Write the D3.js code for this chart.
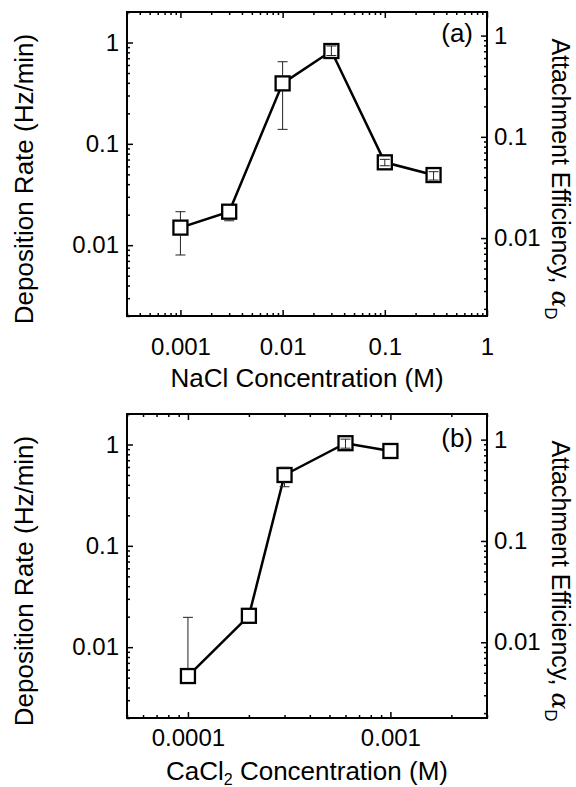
<!DOCTYPE html>
<html>
<head>
  <meta charset="utf-8">
  <title>Deposition Rate vs Salt Concentration</title>
  <script src="https://d3js.org/d3.v7.min.js"></script>
  <style>
    body { margin: 0; background: #fff; }
    svg { font-family: "Liberation Sans", Arial, sans-serif; }
    .tick text { font-size: 24px; fill: #000; }
    .axis path.domain { display: none; }
    .axis line { stroke: #000; stroke-width: 1.5; }
  </style>
</head>
<body>
  <svg width="576" height="787"></svg>
  <script>
    // panel (a): NaCl
    var naclConc = [0.001, 0.003, 0.01, 0.03, 0.1, 0.3];
    var naclRate = [0.0149, 0.0214, 0.395, 0.824, 0.0657, 0.0492];
    var naclErrLo = [0.0080, 0.0174, 0.139, 0.744, 0.0608, 0.0439];
    var naclErrHi = [0.0214, null, 0.646, 0.924, 0.0703, 0.0531];
    var naclXTicks = [0.001, 0.01, 0.1, 1];
    var naclXLabels = ["0.001", "0.01", "0.1", "1"];
    var naclXDomain = [0.0003, 1];
    var naclAlphaDomain = [0.0017, 1.71];

    // panel (b): CaCl2
    var caclConc = [0.0001, 0.0002, 0.0003, 0.0006, 0.001];
    var caclRate = [0.00519, 0.0204, 0.50, 1.03, 0.863];
    var caclErrLo = [null, null, 0.383, 0.92, null];
    var caclErrHi = [0.0197, null, 0.596, 1.13, null];
    var caclXTicks = [0.0001, 0.001];
    var caclXLabels = ["0.0001", "0.001"];
    var caclXDomain = [0.00005, 0.003];
    var caclAlphaDomain = [0.00179, 1.79];

    var rateDomain = [0.002, 2];
    var yTicks = [1, 0.1, 0.01];
    var yLabels = ["1", "0.1", "0.01"];

    var svg = d3.select("svg");
    var left = 127, width = 360, height = 304;

    function isMajor(v) {
      var l = Math.log10(v);
      return Math.abs(l - Math.round(l)) < 1e-6;
    }

    function drawPanel(p) {
      var g = svg.append("g").attr("transform", "translate(" + left + "," + p.top + ")");

      var x = d3.scaleLog().domain(p.xDomain).range([0, width]);
      var y = d3.scaleLog().domain(rateDomain).range([height, 0]);
      var ya = d3.scaleLog().domain(p.alphaDomain).range([height, 0]);

      var xMinor = x.ticks().filter(function(d) { return !isMajor(d); });
      var yMinor = y.ticks().filter(function(d) { return !isMajor(d); });
      var yaMinor = ya.ticks().filter(function(d) { return !isMajor(d); });

      // bottom axis
      g.append("g").attr("class", "axis").attr("transform", "translate(0," + height + ")")
        .call(d3.axisBottom(x).tickValues(xMinor).tickSize(-3).tickFormat(""));
      g.append("g").attr("class", "axis").attr("transform", "translate(0," + height + ")")
        .call(d3.axisBottom(x).tickValues(p.xTicks).tickSize(-6).tickPadding(p.xPad)
          .tickFormat(function(d, i) { return p.xLabels[i]; }));
      // top mirror
      g.append("g").attr("class", "axis")
        .call(d3.axisTop(x).tickValues(xMinor).tickSize(-3).tickFormat(""));
      g.append("g").attr("class", "axis")
        .call(d3.axisTop(x).tickValues(p.xTicks).tickSize(-6).tickFormat(""));

      // left axis (deposition rate)
      g.append("g").attr("class", "axis")
        .call(d3.axisLeft(y).tickValues(yMinor).tickSize(-3).tickFormat(""));
      g.append("g").attr("class", "axis")
        .call(d3.axisLeft(y).tickValues(yTicks).tickSize(-6).tickPadding(8)
          .tickFormat(function(d, i) { return yLabels[i]; }));

      // right axis (attachment efficiency)
      g.append("g").attr("class", "axis").attr("transform", "translate(" + width + ",0)")
        .call(d3.axisRight(ya).tickValues(yaMinor).tickSize(-3).tickFormat(""));
      g.append("g").attr("class", "axis").attr("transform", "translate(" + width + ",0)")
        .call(d3.axisRight(ya).tickValues(yTicks).tickSize(-6).tickPadding(7)
          .tickFormat(function(d, i) { return yLabels[i]; }));

      // frame
      g.append("rect").attr("width", width).attr("height", height)
        .attr("fill", "none").attr("stroke", "#000").attr("stroke-width", 2);

      var pts = p.conc.map(function(c, i) {
        return { c: c, r: p.rate[i], lo: p.lo[i], hi: p.hi[i] };
      });

      var line = d3.line()
        .x(function(d) { return x(d.c); })
        .y(function(d) { return y(d.r); });

      g.append("path").datum(pts).attr("d", line)
        .attr("fill", "none").attr("stroke", "#000").attr("stroke-width", 2.5);

      var ms = 14;
      g.selectAll(".marker").data(pts).enter().append("rect")
        .attr("class", "marker")
        .attr("x", function(d) { return x(d.c) - ms / 2; })
        .attr("y", function(d) { return y(d.r) - ms / 2; })
        .attr("width", ms).attr("height", ms)
        .attr("fill", "#fff").attr("stroke", "#000").attr("stroke-width", 2.3);

      // error bars, stems kept outside the marker box where they reach past it
      var eb = g.append("g").attr("stroke", "#222").attr("stroke-width", 1).attr("fill", "none");
      pts.forEach(function(d) {
        var px = x(d.c), py = y(d.r), half = ms / 2;
        [d.hi, d.lo].forEach(function(v, k) {
          if (v == null) return;
          var ey = y(v);
          var edge = k === 0 ? py - half : py + half;
          var outside = k === 0 ? ey < edge : ey > edge;
          eb.append("line").attr("x1", px).attr("x2", px)
            .attr("y1", ey).attr("y2", outside ? edge : py);
          eb.append("line").attr("x1", px - 5).attr("x2", px + 5)
            .attr("y1", ey).attr("y2", ey);
        });
      });

      // panel label
      g.append("text").attr("x", width - 14).attr("y", p.labelY)
        .attr("text-anchor", "end").attr("font-size", 26).text(p.label);

      // left title
      svg.append("text")
        .attr("transform", "translate(33," + (p.top + 167) + ") rotate(-90)")
        .attr("text-anchor", "middle").attr("font-size", 26)
        .text("Deposition Rate (Hz/min)");

      // right title
      var rt = svg.append("text")
        .attr("transform", "translate(552," + (p.top + 167) + ") rotate(90)")
        .attr("text-anchor", "middle").attr("font-size", 25);
      rt.append("tspan").text("Attachment Efficiency, ");
      rt.append("tspan").attr("font-style", "italic").attr("font-family", "DejaVu Serif, serif").text("\u03b1");
      rt.append("tspan").attr("font-size", 17).attr("dy", 7).text("D");

      // x title
      var xt = svg.append("text")
        .attr("x", left + width / 2).attr("y", p.top + p.xTitleY)
        .attr("text-anchor", "middle").attr("font-size", 26);
      p.xTitle.forEach(function(s) {
        var t = xt.append("tspan").text(s.t);
        if (s.sub) t.attr("font-size", 16).attr("dy", 5);
        if (s.back) t.attr("dy", -5);
      });
    }

    drawPanel({
      top: 12, conc: naclConc, rate: naclRate, lo: naclErrLo, hi: naclErrHi,
      xDomain: naclXDomain, xTicks: naclXTicks, xLabels: naclXLabels,
      alphaDomain: naclAlphaDomain, xPad: 22, label: "(a)", labelY: 30,
      xTitleY: 375, xTitle: [{ t: "NaCl Concentration (M)" }]
    });

    drawPanel({
      top: 414, conc: caclConc, rate: caclRate, lo: caclErrLo, hi: caclErrHi,
      xDomain: caclXDomain, xTicks: caclXTicks, xLabels: caclXLabels,
      alphaDomain: caclAlphaDomain, xPad: 11, label: "(b)", labelY: 33,
      xTitleY: 366,
      xTitle: [{ t: "CaCl" }, { t: "2", sub: true }, { t: " Concentration (M)", back: true }]
    });
  </script>
</body>
</html>
